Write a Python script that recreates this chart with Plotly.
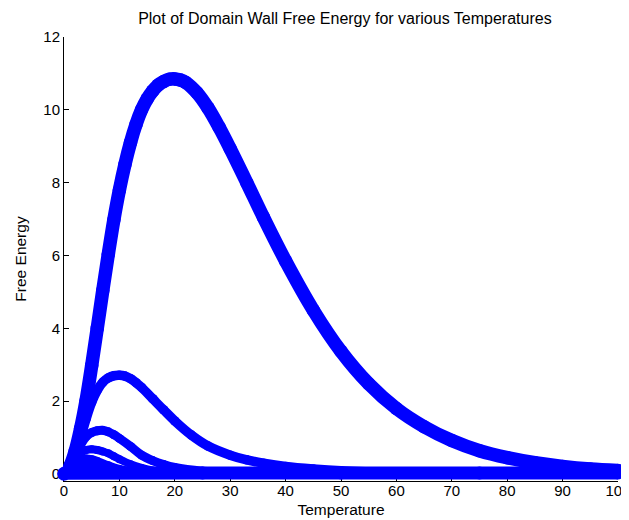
import plotly.graph_objects as go

title_text = "Plot of Domain Wall Free Energy for various Temperatures"
x_label = "Temperature"
y_label = "Free Energy"
x_ticks = [0, 10, 20, 30, 40, 50, 60, 70, 80, 90, 100]
y_ticks = [0, 2, 4, 6, 8, 10, 12]

# curve peaking near T=20
temp_1 = [0, 1, 2, 3, 4, 5, 6, 7, 8, 9, 10, 11, 12, 13, 14, 15, 16, 17, 18, 19, 20, 21, 22,
          24, 26, 28, 30, 33, 36, 40, 45, 50, 55, 60, 65, 70, 75, 80, 85, 90, 95, 100]
energy_1 = [0, 0.2, 0.62, 1.25, 2.03, 2.98, 4.0, 5.04, 6.04, 6.98, 7.8, 8.5, 9.1, 9.6, 10.0,
            10.3, 10.52, 10.68, 10.78, 10.84, 10.85, 10.82, 10.75, 10.47, 10.05, 9.52, 8.93,
            8.0, 7.05, 5.85, 4.5, 3.37, 2.48, 1.8, 1.3, 0.92, 0.64, 0.45, 0.31, 0.21, 0.14, 0.1]

# curve peaking near T=10
temp_2 = [0, 1, 2, 3, 4, 5, 6, 7, 8, 9, 10, 11, 12, 13, 14, 16, 18, 20, 23, 26, 30, 33, 36,
          40, 45, 50, 60, 70, 80, 90, 100]
energy_2 = [0, 0.15, 0.5, 1.0, 1.52, 1.97, 2.3, 2.52, 2.64, 2.7, 2.71, 2.69, 2.62, 2.51, 2.38,
            2.07, 1.76, 1.46, 1.07, 0.77, 0.52, 0.39, 0.3, 0.21, 0.14, 0.09, 0.04, 0.02, 0.01,
            0.005, 0]

# curve peaking near T=6.7
temp_3 = [0, 1, 2, 3, 4, 5, 6, 7, 8, 9, 10, 12, 14, 16, 18, 20, 25, 30, 40, 60, 80, 100]
energy_3 = [0, 0.14, 0.46, 0.8, 1.03, 1.14, 1.19, 1.2, 1.16, 1.08, 0.98, 0.76, 0.52, 0.37,
            0.26, 0.18, 0.08, 0.04, 0.01, 0, 0, 0]

# curve peaking near T=5
temp_4 = [0, 1, 2, 3, 4, 5, 6, 7, 8, 9, 10, 12, 14, 16, 20, 30, 50, 100]
energy_4 = [0, 0.12, 0.39, 0.58, 0.66, 0.68, 0.66, 0.62, 0.57, 0.49, 0.41, 0.27, 0.17, 0.1,
            0.04, 0.01, 0, 0]

# curve peaking near T=4
temp_5 = [0, 1, 2, 3, 4, 5, 6, 8, 10, 12, 15, 20, 40, 100]
energy_5 = [0, 0.12, 0.32, 0.41, 0.43, 0.41, 0.36, 0.24, 0.14, 0.08, 0.03, 0.01, 0, 0]

# curve peaking near T=3.3
temp_6 = [0, 1, 2, 3, 4, 5, 6, 8, 10, 15, 30, 100]
energy_6 = [0, 0.11, 0.26, 0.3, 0.29, 0.24, 0.19, 0.1, 0.05, 0.01, 0, 0]

# remaining curves, all close to zero
temp_0 = [0, 25, 50, 75, 100]
energy_0 = [0.02, 0.03, 0.03, 0.03, 0.03]

curves = [
    (temp_0, energy_0, 13),
    (temp_6, energy_6, 8),
    (temp_5, energy_5, 8),
    (temp_4, energy_4, 8),
    (temp_3, energy_3, 9),
    (temp_2, energy_2, 9.5),
    (temp_1, energy_1, 13.5),
]

fig = go.Figure()
for tx, ey, w in curves:
    fig.add_trace(go.Scatter(
        x=tx, y=ey, mode="lines+markers",
        line=dict(color="#0000FF", width=w, shape="spline", smoothing=1.0),
        marker=dict(color="#0000FF", size=w, line=dict(width=0)),
        cliponaxis=False, showlegend=False, hoverinfo="skip",
    ))

fam = "Liberation Sans, Arial, sans-serif"
tick_font = dict(family=fam, size=15, color="black")
label_font = dict(family=fam, size=15.5, color="black")

# the page places the figure 8px in from the top-left corner
fig.update_layout(
    width=621, height=512,
    margin=dict(l=56, r=11, t=29, b=39),
    paper_bgcolor="white", plot_bgcolor="white",
    font=dict(family=fam, size=15, color="black"),
    title=dict(text=title_text, x=0.507, xref="paper", y=1 - 10 / 512, yref="container",
               yanchor="middle", xanchor="center",
               font=dict(size=16, family=fam, color="black")),
)
fig.update_xaxes(
    range=[0, 100], tickvals=x_ticks, ticktext=[str(v) for v in x_ticks],
    ticks="inside", ticklen=5, tickcolor="black", tickfont=tick_font,
    ticklabeloverflow="allow", ticklabelstandoff=-4,
    showline=True, linecolor="black", linewidth=1, showgrid=False, zeroline=False,
    layer="below traces", automargin=False,
    title=dict(text=x_label, standoff=6, font=label_font),
)
fig.update_yaxes(
    range=[-0.19, 12], tickvals=y_ticks, ticktext=[str(v) for v in y_ticks],
    ticks="inside", ticklen=5, tickcolor="black", tickfont=tick_font,
    ticklabeloverflow="allow",
    showline=True, linecolor="black", linewidth=1, showgrid=False, zeroline=False,
    layer="below traces", automargin=False,
    title=dict(text=y_label, standoff=12, font=label_font),
)

fig.write_html("out.html")
